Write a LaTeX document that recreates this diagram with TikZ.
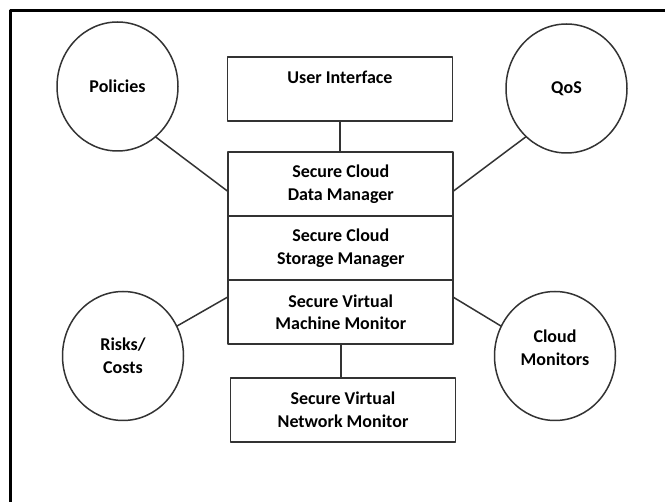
\documentclass[tikz,border=0pt]{standalone}
\usepackage{fontspec}
\setmainfont{Carlito}
\usepackage{tikz}
\usetikzlibrary{positioning}
\usetikzlibrary{shapes.geometric}

\begin{document}
\begin{tikzpicture}[line cap=round,line join=round,x=1pt,y=-1pt,
  box/.style={draw=black!80,line width=1.8pt,minimum width=225pt,minimum height=64pt,inner sep=0pt,outer sep=0pt,align=center,font=\fontsize{18}{22.5}\selectfont\bfseries},
  bubble/.style={ellipse,draw=black!80,line width=1.5pt,minimum width=121pt,minimum height=129pt,inner sep=0pt,outer sep=0pt,align=center,font=\fontsize{18}{22.5}\selectfont\bfseries},
  link/.style={draw=black!80,line width=1.5pt}]
\useasboundingbox (0,0) rectangle (665,502);
% frame
\draw [line width=3pt,line cap=butt] (10,502) -- (10,11) -- (665,11);
% stack of managers
\node [box] (ui) at (340,89) {User Interface\\\mbox{}};
\node [box] (data) at (340.8,184.2) {Secure Cloud\\Data Manager};
\node [box,below=0pt of data] (store) {Secure Cloud\\Storage Manager};
\node [box,below=0pt of store] (vmm) {Secure Virtual\\Machine Monitor};
\node [box] (net) at (343,410) {Secure Virtual\\Network Monitor};
% bubbles
\node [bubble] (pol) at (117.5,86.5) {Policies};
\node [bubble] (qos) at (566.5,88.5) {QoS};
\node [bubble] (risk) at (123,356) {Risks/\\Costs};
\node [bubble] (mon) at (555,356) {Cloud\\Monitors\\[-6pt]\mbox{}};
% links
\draw [link] (ui.south) -- (ui.south |- data.north);
\draw [link] (vmm.south) -- (vmm.south |- net.north);
\draw [link] (pol.-53) -- ([yshift=-7.5pt]data.west);
\draw [link] (qos.-130) -- ([yshift=-7pt]data.east);
\draw [link] (risk.29) -- ([yshift=15.5pt]vmm.west);
\draw [link] (mon.151) -- ([yshift=15pt]vmm.east);
\end{tikzpicture}
\end{document}
